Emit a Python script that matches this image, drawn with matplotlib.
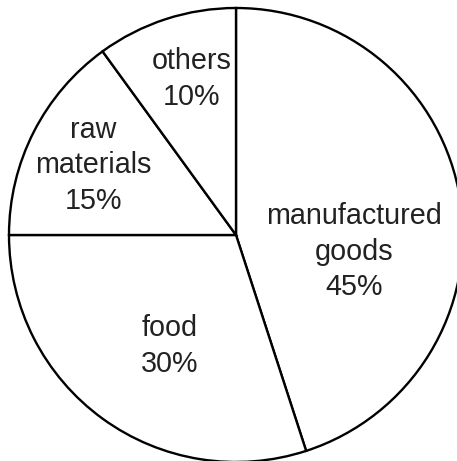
import numpy as np
import matplotlib
matplotlib.use("Agg")
import matplotlib.pyplot as plt

# data
labels = ["manufactured\ngoods", "food", "raw\nmaterials", "others"]
shares = [45, 30, 15, 10]

# label placement (fraction of radius, angle shift from wedge middle in degrees)
label_dist = [0.525, 0.57, 0.70, 0.715]
angle_shift = [-17, 5, 1.0, -2]

plt.rcParams['font.family'] = ['Liberation Sans', 'DejaVu Sans']

fig = plt.figure(figsize=(4.57, 4.61), dpi=100)
ax = fig.add_axes([0, 0, 1, 1])

wedges, _ = ax.pie(shares, startangle=90, counterclock=False, radius=1,
                   colors=["white"] * len(shares),
                   wedgeprops=dict(edgecolor="black", linewidth=1.7))

for w, lab, s, d, da in zip(wedges, labels, shares, label_dist, angle_shift):
    mid = np.deg2rad((w.theta1 + w.theta2) / 2 + da)
    ax.text(d * np.cos(mid), d * np.sin(mid), f"{lab}\n{s}%",
            ha="center", va="center", fontsize=20.7, linespacing=1.33,
            color="#222222")

# circle centre at pixel (236, 235), radius 227 px
r_px = 227
ax.set_xlim(-236 / r_px, (457 - 236) / r_px)
ax.set_ylim(-(461 - 235) / r_px, 235 / r_px)
ax.set_aspect("auto")
ax.axis("off")

fig.savefig("out.png", dpi=100)
